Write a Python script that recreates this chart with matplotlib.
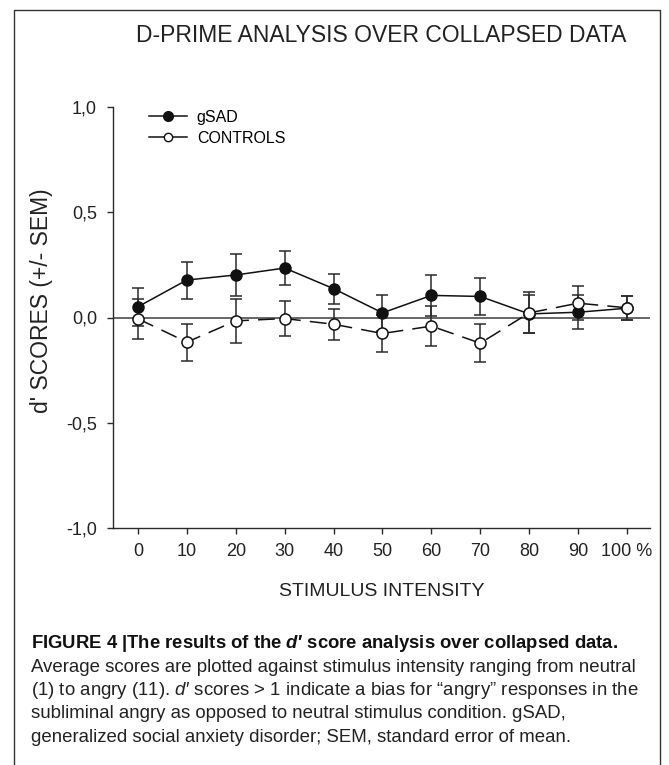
import matplotlib
matplotlib.use("Agg")
import matplotlib.pyplot as plt
from matplotlib.lines import Line2D

plt.rcParams['font.family'] = ['Liberation Sans', 'DejaVu Sans']
plt.rcParams['mathtext.fontset'] = 'custom'
plt.rcParams['mathtext.it'] = 'Liberation Sans:italic'
plt.rcParams['mathtext.bf'] = 'Liberation Sans:bold:italic'

# stimulus intensity (%)
intensity = [0, 10, 20, 30, 40, 50, 60, 70, 80, 90, 100]
xtick_labels = ["0", "10", "20", "30", "40", "50", "60", "70", "80", "90", "100 %"]

# d' scores and SEM
gsad_mean = [0.051, 0.178, 0.202, 0.235, 0.137, 0.022, 0.105, 0.100, 0.017, 0.025, 0.044]
gsad_sem = [0.091, 0.088, 0.102, 0.082, 0.071, 0.085, 0.097, 0.088, 0.090, 0.082, 0.057]
ctrl_mean = [-0.006, -0.117, -0.016, -0.005, -0.032, -0.076, -0.041, -0.122, 0.022, 0.068, 0.046]
ctrl_sem = [0.094, 0.088, 0.105, 0.082, 0.073, 0.086, 0.096, 0.089, 0.097, 0.080, 0.057]

ytick_vals = [-1.0, -0.5, 0.0, 0.5, 1.0]
ytick_labels = ["-1,0", "-0,5", "0,0", "0,5", "1,0"]

W, H = 669, 765
fig = plt.figure(figsize=(W / 100, H / 100), dpi=100)
ax = fig.add_axes([113 / W, 1 - 528 / H, (650 - 113) / W, (528 - 107) / H])

dark = "#2a2a2a"
ax.axhline(0, color="#666666", lw=1.4, zorder=1)

ax.errorbar(intensity, gsad_mean, yerr=gsad_sem, fmt="none", ecolor=dark,
            elinewidth=1.1, capsize=4.6, capthick=1.1, zorder=2)
ax.errorbar(intensity, ctrl_mean, yerr=ctrl_sem, fmt="none", ecolor=dark,
            elinewidth=1.1, capsize=4.6, capthick=1.1, zorder=2)
ax.plot(intensity, gsad_mean, "-", color="#111111", lw=1.1, marker="o", ms=8,
        mfc="#111111", mec="#111111", zorder=3)
ax.plot(intensity, ctrl_mean, color="#111111", lw=1.1, ls=(0, (11, 6)), marker="o",
        ms=8, mfc="white", mec="#111111", mew=1.1, zorder=4)

ax.set_xlim(-5.1, 104.7)
ax.set_ylim(-1.0, 1.0)
ax.set_xticks(intensity)
ax.set_xticklabels(xtick_labels)
ax.set_yticks(ytick_vals)
ax.set_yticklabels(ytick_labels)
ax.tick_params(axis="both", direction="out", length=4.5, width=1, color=dark,
               labelsize=13, labelcolor="#222222")
ax.tick_params(axis="y", pad=7)
ax.tick_params(axis="x", pad=6)
for s in ["top", "right"]:
    ax.spines[s].set_visible(False)
for s in ["left", "bottom"]:
    ax.spines[s].set_color(dark)
    ax.spines[s].set_linewidth(1)

handles = [
    Line2D([], [], color="#111111", lw=1.1, marker="o", ms=7, mfc="#111111", mec="#111111"),
    Line2D([], [], color="#111111", lw=1.1, marker="o", ms=6, mfc="white", mec="#111111"),
]
ax.legend(handles, ["gSAD", "CONTROLS"], loc="upper left", bbox_to_anchor=(0.055, 1.009),
          frameon=False, fontsize=11.5, handlelength=2.4, handletextpad=0.6,
          labelspacing=0.38, borderaxespad=0)

fig.text(381.5 / W, 1 - 35 / H, "D-PRIME ANALYSIS OVER COLLAPSED DATA", ha="center",
         va="center", fontsize=16.5, color="#222222")
fig.text(381.5 / W, 1 - 591 / H, "STIMULUS INTENSITY", ha="center", va="center",
         fontsize=14, color="#222222")
fig.text(42 / W, 1 - 301 / H, "d' SCORES (+/- SEM)", ha="center", va="center",
         rotation=90, fontsize=16.5, color="#222222")

# caption
cap_font = ['Liberation Sans', 'DejaVu Sans']
fig.text(31 / W, 1 - 643 / H,
         "FIGURE 4 |The results of the $\\mathbf{d}$\u2032 score analysis over collapsed data.",
         ha="left", va="center", fontsize=13.3, fontweight="bold", family=cap_font, color="#111111")
cap_lines = [
    "Average scores are plotted against stimulus intensity ranging from neutral",
    "(1) to angry (11). $d$\u2032 scores > 1 indicate a bias for \u201cangry\u201d responses in the",
    "subliminal angry as opposed to neutral stimulus condition. gSAD,",
    "generalized social anxiety disorder; SEM, standard error of mean.",
]
for i, line in enumerate(cap_lines):
    fig.text(31 / W, 1 - (667 + 23.5 * i) / H, line, ha="left", va="center",
             fontsize=13.45, family=cap_font, color="#222222")

# frame around the figure panel
fig.add_artist(Line2D([14 / W, 14 / W, 660 / W, 660 / W], [0, 1 - 10 / H, 1 - 10 / H, 0],
                      transform=fig.transFigure, color="#333333", lw=1))

fig.savefig("out.png", dpi=100)
